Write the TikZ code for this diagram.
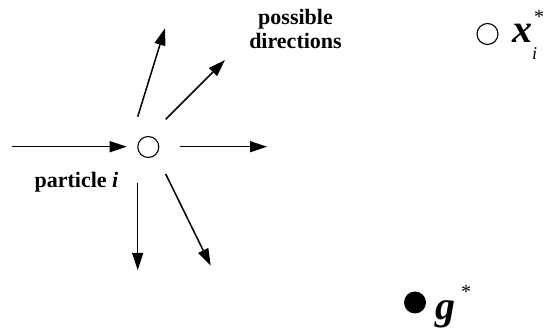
\documentclass[tikz,border=0pt]{standalone}
\usepackage{fontspec}
\setmainfont{Liberation Serif}
\usetikzlibrary{arrows.meta}
\tikzset{
  dot/.style={circle, draw=black, line width=1.1pt, minimum size=21pt, inner sep=0pt},
  bestdot/.style={circle, fill=black, minimum size=22pt, inner sep=0pt},
  dirarrow/.style={line width=1.5pt, -{Triangle[length=17pt,width=11pt]}},
  lbl/.style={inner sep=0pt, font=\fontsize{22}{24}\selectfont\bfseries},
  biglbl/.style={inner sep=0pt, anchor=base west, font=\fontsize{40}{40}\selectfont\bfseries\itshape}
}
\begin{document}
\begin{tikzpicture}[x=1pt,y=-1pt]
\useasboundingbox (0,0) rectangle (544,336);
% particle
\node[dot] (p) at (148.3,147) {};
\node[dot] (xs) at (487.5,34) {};
\node[bestdot] (gs) at (415,302.5) {};
% arrow end points
\coordinate (inS) at (11.7,146.7);
\coordinate (inE) at (126.7,146.7);
\coordinate (rS) at (180,146.7);
\coordinate (rE) at (267,146.7);
\coordinate (u1S) at (137.7,116.7);
\coordinate (u1E) at (165,28.3);
\coordinate (u2S) at (165.7,119.3);
\coordinate (u2E) at (225,60);
\coordinate (dS) at (137.7,182.7);
\coordinate (dE) at (137.7,270);
\coordinate (drS) at (165.7,174);
\coordinate (drE) at (210.7,265.7);
\draw[dirarrow] (inS) -- (inE);
\draw[dirarrow] (rS) -- (rE);
\draw[dirarrow] (u1S) -- (u1E);
\draw[dirarrow] (u2S) -- (u2E);
\draw[dirarrow] (dS) -- (dE);
\draw[dirarrow] (drS) -- (drE);
% labels
\node[lbl, anchor=base] (pl) at (76.5,188) {particle \textit{i}};
\node[lbl, anchor=base, align=center] (dl) at (295.5,49) {possible\\directions};
\node[biglbl] (xl) at (512,43) {x\rlap{\raisebox{-17pt}{\fontsize{18}{18}\selectfont\mdseries i}}\hspace{2pt}\raisebox{19pt}{\fontsize{20}{20}\selectfont\upshape\mdseries *}};
\node[biglbl] (gl) at (435,320) {g\hspace{6pt}\raisebox{21pt}{\fontsize{20}{20}\selectfont\upshape\mdseries *}};
\end{tikzpicture}
\end{document}
